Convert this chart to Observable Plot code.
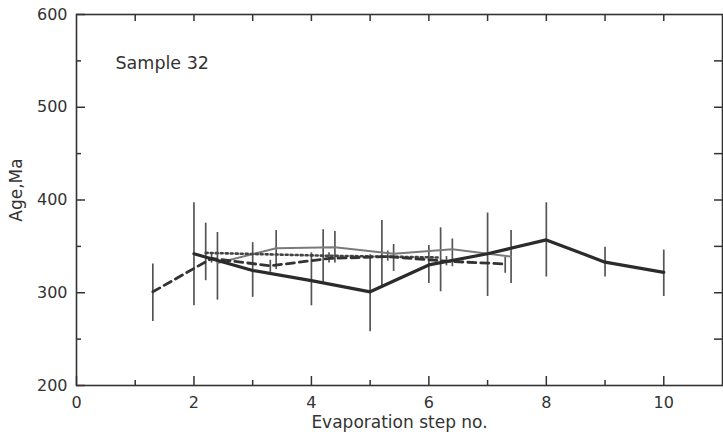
<!DOCTYPE html>
<html>
<head>
<meta charset="utf-8">
<script src="https://cdn.jsdelivr.net/npm/d3@7"></script>
<script src="https://cdn.jsdelivr.net/npm/@observablehq/plot@0.6"></script>
<style>
  html, body { margin: 0; padding: 0; background: #fff; }
</style>
</head>
<body>
<div id="chart"></div>
<script>
// Series 1: thick solid line
const solidX   = [2, 3, 4, 5, 6, 7, 8, 9, 10];
const solidAge = [342, 324, 313, 301, 330, 342, 357, 333, 322];
const solidLo  = [286, 295, 286, 258, 310, 296, 317, 317, 296];
const solidHi  = [397, 354, 343, 341, 351, 386, 397, 349, 346];

// Series 2: dashed line
const dashX   = [1.3, 2.3, 3.3, 4.3, 5.3, 6.3, 7.3];
const dashAge = [301, 337, 329, 337, 339, 334, 331];
const dashLo  = [269, 332, 322, 332, 334, 329, 321];
const dashHi  = [331, 342, 335, 343, 345, 339, 338];

// Series 3: dotted line
const dotX   = [2.2, 4.2, 5.2, 6.2];
const dotAge = [343, 340, 339, 338];
const dotLo  = [313, 309, 306, 301];
const dotHi  = [375, 368, 378, 370];

// Series 4: thin grey line
const greyX   = [2.4, 3.4, 4.4, 5.4, 6.4, 7.4];
const greyAge = [332, 348, 349, 342, 347, 339];
const greyLo  = [292, 325, 332, 323, 328, 310];
const greyHi  = [365, 367, 366, 352, 358, 367];

// Axis ticks and texts
const xTickLabels = [0, 2, 4, 6, 8, 10];
const xMinorTicks = [1, 3, 5, 7, 9];
const xTopTicks = [1, 2, 3, 4, 5, 6, 7, 8, 9, 10];
const yTickLabels = [200, 300, 400, 500, 600];
const yMinorTicks = [250, 350, 450, 550];
const yRightTicks = [250, 300, 350, 400, 450, 500, 550];
const xTitle = "Evaporation step no.";
const yTitle = "Age,Ma";
const sampleLabel = "Sample 32";

const toRows = (xs, ys, lo, hi) => xs.map((x, i) => ({x, age: ys[i], lo: lo[i], hi: hi[i]}));
const solid = toRows(solidX, solidAge, solidLo, solidHi);
const dash = toRows(dashX, dashAge, dashLo, dashHi);
const dot = toRows(dotX, dotAge, dotLo, dotHi);
const grey = toRows(greyX, greyAge, greyLo, greyHi);

const barColor = "#555";
const ink = "#333";

const chart = Plot.plot({
  width: 723,
  height: 441,
  marginLeft: 76,
  marginRight: 1,
  marginTop: 14,
  marginBottom: 56,
  style: {fontFamily: "'DejaVu Sans', sans-serif", fontSize: "16px", color: ink, background: "#fff"},
  x: {domain: [0, 11]},
  y: {domain: [200, 600]},
  marks: [
    // error bars
    Plot.ruleX(solid, {x: "x", y1: "lo", y2: "hi", stroke: barColor, strokeWidth: 1.7}),
    Plot.ruleX(dash, {x: "x", y1: "lo", y2: "hi", stroke: barColor, strokeWidth: 1.7}),
    Plot.ruleX(dot, {x: "x", y1: "lo", y2: "hi", stroke: barColor, strokeWidth: 1.7}),
    Plot.ruleX(grey, {x: "x", y1: "lo", y2: "hi", stroke: barColor, strokeWidth: 1.7}),
    // lines
    Plot.line(grey, {x: "x", y: "age", stroke: "#7a7a7a", strokeWidth: 2}),
    Plot.line(dot, {x: "x", y: "age", stroke: "#444", strokeWidth: 2.6, strokeDasharray: "2,3"}),
    Plot.line(dash, {x: "x", y: "age", stroke: "#333", strokeWidth: 2.8, strokeDasharray: "8,5"}),
    Plot.line(solid, {x: "x", y: "age", stroke: "#2b2b2b", strokeWidth: 3.2}),
    // frame
    Plot.frame({stroke: ink, strokeWidth: 1.6}),
    // bottom axis: labels
    Plot.axisX({anchor: "bottom", ticks: xTickLabels, tickSize: 0, tickPadding: 11, fontSize: 16, label: null}),
    // bottom ticks inward
    Plot.axisX({anchor: "bottom", ticks: xTickLabels, tickSize: -9, tickFormat: () => "", label: null, stroke: ink, strokeWidth: 1.5}),
    Plot.axisX({anchor: "bottom", ticks: xMinorTicks, tickSize: -5, tickFormat: () => "", label: null, stroke: ink, strokeWidth: 1.5}),
    // top ticks inward
    Plot.axisX({anchor: "top", ticks: xTopTicks, tickSize: -6, tickFormat: () => "", label: null, stroke: ink, strokeWidth: 1.5}),
    // left axis labels
    Plot.axisY({anchor: "left", ticks: yTickLabels, tickSize: 0, tickPadding: 9, fontSize: 16, label: null}),
    Plot.axisY({anchor: "left", ticks: yTickLabels, tickSize: -9, tickFormat: () => "", label: null, stroke: ink, strokeWidth: 1.5}),
    Plot.axisY({anchor: "left", ticks: yMinorTicks, tickSize: -5, tickFormat: () => "", label: null, stroke: ink, strokeWidth: 1.5}),
    // right ticks inward
    Plot.axisY({anchor: "right", ticks: yRightTicks, tickSize: -9, tickFormat: () => "", label: null, stroke: ink, strokeWidth: 1.5}),
    // axis titles
    Plot.text([xTitle], {frameAnchor: "bottom", textAnchor: "middle", lineAnchor: "middle", dy: 37, fontSize: 17, fill: ink}),
    Plot.text([yTitle], {frameAnchor: "left", textAnchor: "middle", rotate: -90, dx: -60, dy: -10, fontSize: 17, fill: ink}),
    // sample annotation
    Plot.text([sampleLabel], {frameAnchor: "top-left", dx: 39, dy: 49, textAnchor: "start", lineAnchor: "middle", fontSize: 17.5, fill: ink})
  ]
});
document.getElementById("chart").appendChild(chart);
</script>
</body>
</html>
